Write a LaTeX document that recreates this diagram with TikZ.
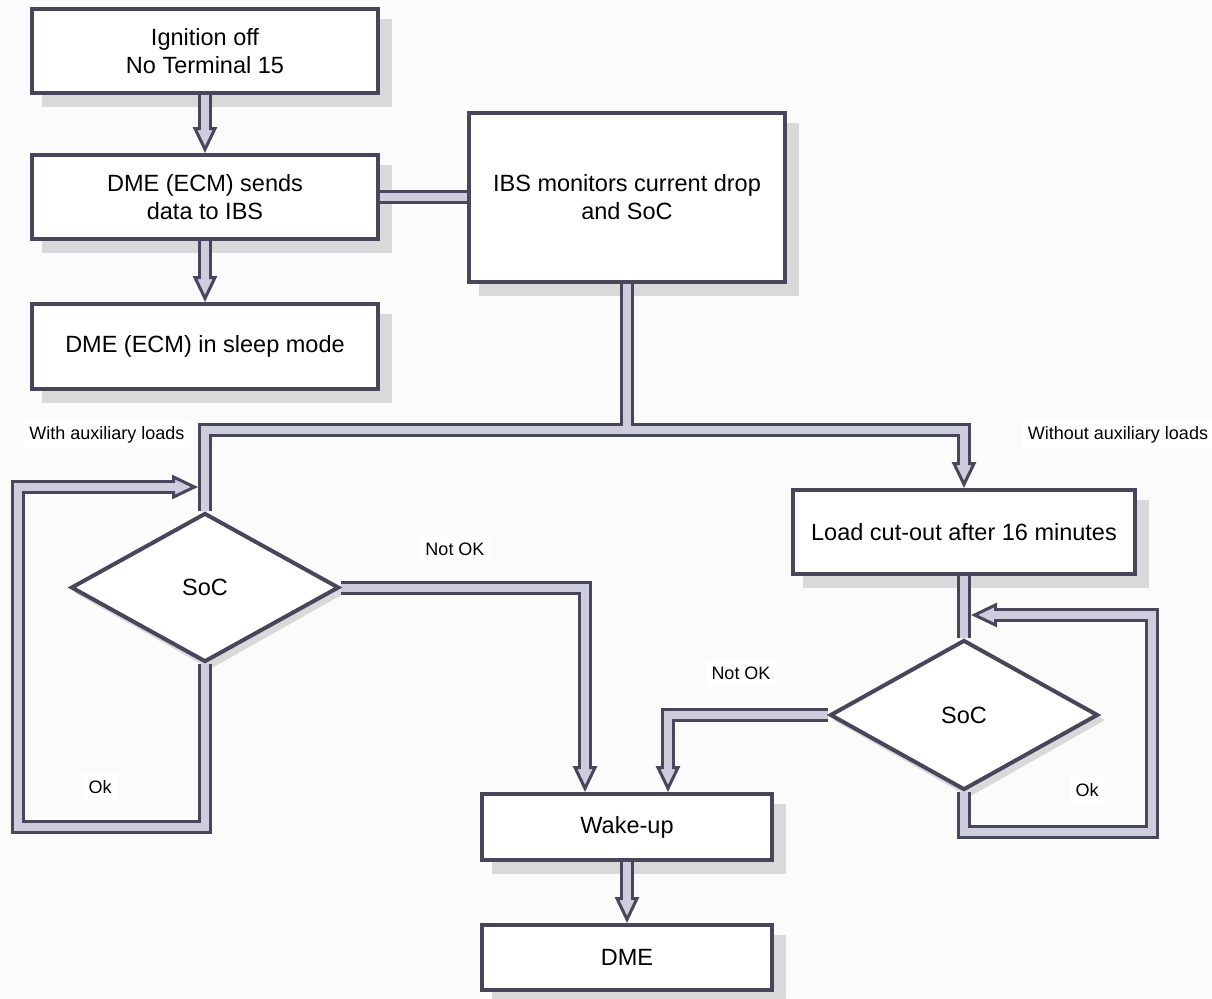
\documentclass[tikz,border=0pt]{standalone}
\usepackage{fontspec}
\setmainfont{Liberation Sans}
\usetikzlibrary{arrows.meta,shapes.geometric,calc}
\pgfdeclarelayer{shadowl}
\pgfdeclarelayer{connl}
\pgfsetlayers{shadowl,connl,main}
\definecolor{dark}{RGB}{72,70,90}
\definecolor{lav}{RGB}{205,205,222}
\definecolor{shad}{RGB}{217,217,217}
\definecolor{bgc}{RGB}{251,251,251}
\newcommand\bigtxt{\fontsize{23.5}{28}\selectfont}
\newcommand\smalltxt{\fontsize{18}{21}\selectfont}
\tikzset{
  box/.style 2 args={draw=dark, line width=4pt, fill=white, minimum width=#1,
    minimum height=#2, inner sep=0pt, align=center, font=\bigtxt},
  dia/.style 2 args={diamond, draw=dark, line width=4pt, fill=white, minimum width=#1,
    minimum height=#2, inner sep=0pt, font=\bigtxt},
  lbl/.style={fill=white, inner sep=6pt, font=\smalltxt},
  cout/.style={draw=dark, line width=14pt, line join=miter},
  cin/.style={draw=lav, line width=8pt, line join=miter},
  tipout/.style={cout, -{Triangle[length=26pt, width=24pt, line width=3pt, fill=lav]}},
  tipin/.style={cin, shorten >=17pt},
}
\newcommand\connset[2]{%
  \draw[#2] (b1.south) -- (b2.north);
  \draw[#2] (b2.south) -- (b3.north);
  \draw[#1] (b2.east) -- (ibs.west);
  \draw[#1] (ibs.south) -- (J);
  \draw[#1] (J) -| (d1.north);
  \draw[#2] (J) -| (load.north);
  \draw[#1] (load.south) -- (d2.north);
  \draw[#2] (d1.south) |- (okLa) -- (okLb) -- (okLend);
  \draw[#2] (d1.east) -| (wakeL);
  \draw[#2] (d2.south) |- (okRa) -- (okRb) -- (okRend);
  \draw[#2] (d2.west) -| (wakeR);
  \draw[#2] (wake.south) -- (dme.north);
}
\begin{document}
\begin{tikzpicture}[x=1pt, y=-1pt]
\useasboundingbox (0,0) rectangle (1212,998);
% nodes
\node[box={346pt}{84pt}] (b1) at (205,51) {Ignition off\\No Terminal 15};
\node[box={346pt}{84pt}] (b2) at (205,197) {DME (ECM) sends\\data to IBS};
\node[box={346pt}{85pt}] (b3) at (205,346.5) {DME (ECM) in sleep mode};
\node[box={316pt}{169pt}] (ibs) at (627,197) {IBS monitors current drop\\and SoC};
\node[box={342pt}{84pt}] (load) at (964,532) {Load cut-out after 16 minutes};
\node[box={290pt}{66pt}] (wake) at (627,827) {Wake-up};
\node[box={290pt}{65pt}] (dme) at (627,957.5) {DME};
\node[dia={268pt}{149pt}] (d1) at (205,587.5) {SoC};
\node[dia={268pt}{150pt}] (d2) at (964,715) {SoC};
% labels
\node[lbl] (lw) at (107,435) {With auxiliary loads};
\node[lbl] (lwo) at (1118,435) {Without auxiliary loads};
\node[lbl] (nok1) at (455,549) {Not OK};
\node[lbl] (nok2) at (741,673) {Not OK};
\node[lbl] (ok1) at (100,787) {Ok};
\node[lbl] (ok2) at (1087,790) {Ok};
% coordinates
\coordinate (J) at (627,430);
\coordinate (okLa) at (18,827);
\coordinate (okLb) at (18,487);
\coordinate (okLend) at (198,487);
\coordinate (okRa) at (1152,832);
\coordinate (okRb) at (1152,615);
\coordinate (okRend) at (971,615);
\coordinate (wakeL) at ([xshift=-42pt]wake.north);
\coordinate (wakeR) at ([xshift=41pt]wake.north);
% shadows
\begin{pgfonlayer}{shadowl}
  \fill[bgc] (0,0) rectangle (1212,998);
  \foreach \n in {b1,b2,b3,ibs,load,wake,dme}
    \fill[shad] ($(\n.south west)+(12,12)$) rectangle ($(\n.north east)+(12,12)$);
  \foreach \n in {d1,d2}
    \fill[shad] ($(\n.north)+(5,5)$) -- ($(\n.east)+(5,5)$) -- ($(\n.south)+(5,5)$) -- ($(\n.west)+(5,5)$) -- cycle;
\end{pgfonlayer}
% connectors
\begin{pgfonlayer}{connl}
  \connset{cout}{tipout}
  \connset{cin}{tipin}
\end{pgfonlayer}
\end{tikzpicture}
\end{document}
